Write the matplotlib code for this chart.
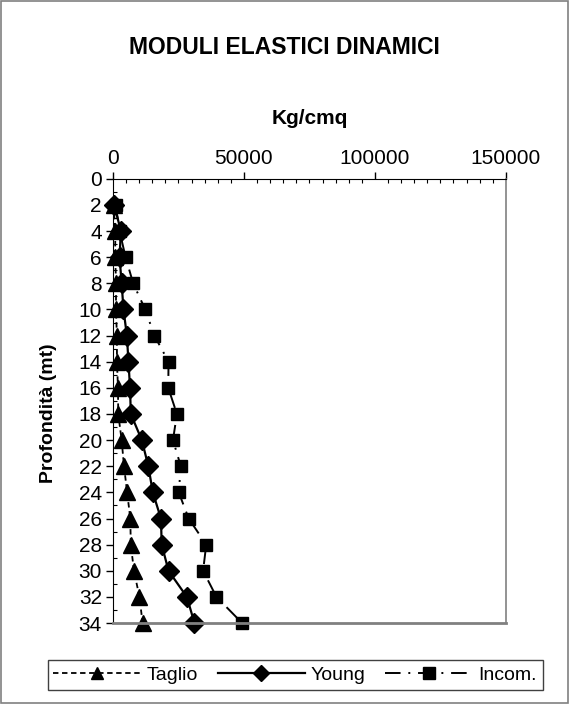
import numpy as np
import matplotlib.pyplot as plt
from matplotlib.patches import Rectangle
from matplotlib.ticker import MultipleLocator

plt.rcParams['font.family'] = ['Liberation Sans', 'DejaVu Sans']

# Data (Kg/cmq vs depth in metres)
depth = [2, 4, 6, 8, 10, 12, 14, 16, 18, 20, 22, 24, 26, 28, 30, 32, 34]
taglio = [200, 900, 800, 1200, 1100, 1500, 1500, 1900, 2000, 3300, 4200, 5400, 6600, 6800, 8000, 10100, 11300]
young = [500, 3000, 2500, 3300, 4000, 5300, 5900, 6500, 6800, 11000, 13500, 15200, 18300, 18600, 21200, 28200, 31100]
incom = [1000, 2500, 4800, 7700, 12300, 15800, 21200, 21100, 24400, 22900, 25900, 25100, 28900, 35600, 34400, 39500, 49300]

fig = plt.figure(figsize=(5.69, 7.04), dpi=100)
fig.patches.append(Rectangle((0.001, 0.001), 0.998, 0.998, transform=fig.transFigure,
                             fill=False, edgecolor='#808080', linewidth=1.2))

ax = fig.add_axes([0.1986, 0.115, 0.6904, 0.631])

ax.plot(taglio, depth, color='black', linestyle=(0, (3, 2)), linewidth=1.3,
        marker='^', markersize=11, label='Taglio', clip_on=False)
ax.plot(young, depth, color='black', linestyle='-', linewidth=1.6,
        marker='D', markersize=10, label='Young', clip_on=False)
ax.plot(incom, depth, color='black', linestyle=(0, (8, 4, 1, 4)), linewidth=1.4,
        marker='s', markersize=9, label='Incom.', clip_on=False)

ax.set_xlim(0, 150000)
ax.set_ylim(34, 0)
ax.xaxis.tick_top()
ax.xaxis.set_label_position('top')
ax.set_xticks([0, 50000, 100000, 150000])
ax.xaxis.set_minor_locator(MultipleLocator(5000))
ax.set_yticks(np.arange(0, 35, 2))
ax.yaxis.set_minor_locator(MultipleLocator(1))
ax.tick_params(axis='both', which='major', direction='out', length=5, width=1,
               labelsize=15, pad=3)
ax.tick_params(axis='both', which='minor', direction='in', length=3, width=0.8)

ax.set_xlabel('Kg/cmq', fontsize=15, fontweight='bold')
ax.xaxis.set_label_coords(0.5, 1.124)
ax.set_ylabel('Profondità (mt)', fontsize=14, fontweight='bold', va='center')
ax.yaxis.set_label_coords(-0.165, 0.473)

ax.spines['top'].set_color('black')
ax.spines['left'].set_color('black')
ax.spines['right'].set_color('#808080')
ax.spines['bottom'].set_color('#808080')
ax.spines['bottom'].set_linewidth(2)
ax.spines['right'].set_linewidth(1.2)

fig.text(0.5, 0.933, 'MODULI ELASTICI DINAMICI', ha='center', va='center',
         fontsize=16.5, fontweight='bold')

leg = fig.legend(loc='center', bbox_to_anchor=(0.519, 0.041), ncol=3, fontsize=14,
                 handlelength=4.5, handletextpad=0.3, columnspacing=1.0,
                 fancybox=False, edgecolor='#404040', framealpha=1, borderpad=0.3)
leg.get_frame().set_linewidth(1)
for h in leg.legend_handles:
    h.set_markersize(8)

fig.savefig('out.png', dpi=100)
